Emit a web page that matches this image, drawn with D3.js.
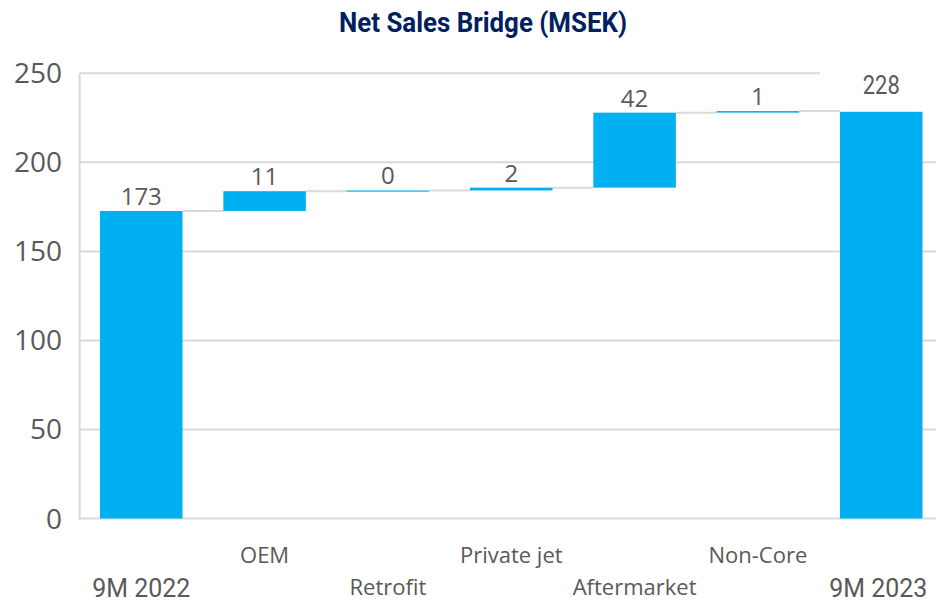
<!DOCTYPE html>
<html>
<head>
<meta charset="utf-8">
<script src="https://cdn.jsdelivr.net/npm/d3@7"></script>
<style>
  html, body { margin: 0; padding: 0; background: #fff; }
  svg { display: block; }
</style>
</head>
<body>
<svg id="chart" width="936" height="603"></svg>
<script>
// ---- data ----
const categories = ["9M 2022", "OEM", "Retrofit", "Private jet", "Aftermarket", "Non-Core", "9M 2023"];
const kinds      = ["total", "delta", "delta", "delta", "delta", "delta", "total"];
const values     = [172.7, 11.1, 0.4, 1.6, 42.1, 0.9, 228.4];
const yTicks     = [0, 50, 100, 150, 200, 250];
const titleText  = "Net Sales Bridge (MSEK)";

// ---- build waterfall segments ----
let running = 0;
const segs = categories.map((c, i) => {
  let y0, y1;
  if (kinds[i] === "total") { y0 = 0; y1 = values[i]; running = values[i]; }
  else { y0 = running; y1 = running + values[i]; running = y1; }
  return { cat: c, kind: kinds[i], value: values[i], y0, y1, i };
});

const svg = d3.select("#chart");
const W = 936, H = 603;
const left = 79.6, step = 123.33;
const x = d3.scaleBand().domain(categories)
  .range([left, left + step * categories.length])
  .paddingInner(0.331).paddingOuter(0.1655);
const y = d3.scaleLinear().domain([0, 250]).range([518.5, 73.3]);

const gridColor = "#d9d9d9";
const textColor = "#595959";
const barColor = "#00b0f0";

// title
svg.append("text")
  .attr("x", 483).attr("y", 32)
  .attr("text-anchor", "middle")
  .attr("font-family", "Roboto")
  .attr("font-weight", 700)
  .attr("font-size", 28)
  .attr("fill", "#002060")
  .attr("textLength", 288)
  .attr("lengthAdjust", "spacingAndGlyphs")
  .text(titleText);

// gridlines
svg.append("g").selectAll("line").data(yTicks).join("line")
  .attr("x1", left).attr("x2", W)
  .attr("y1", d => y(d)).attr("y2", d => y(d))
  .attr("stroke", gridColor).attr("stroke-width", 2);

// y axis line
svg.append("line")
  .attr("x1", left).attr("x2", left)
  .attr("y1", y(250)).attr("y2", y(0) + 1)
  .attr("stroke", gridColor).attr("stroke-width", 2);

// y axis labels via d3 axis
const yAxis = d3.axisLeft(y).tickValues(yTicks).tickSize(0).tickPadding(0);
const gy = svg.append("g").attr("transform", "translate(62,0)").call(yAxis);
gy.select(".domain").remove();
gy.selectAll("text")
  .attr("font-family", "'Open Sans'")
  .attr("font-size", 28)
  .attr("fill", textColor)
  .attr("dy", "0.34em");

// connectors
const conn = segs.slice(0, -1).map((s, i) => ({ from: s, to: segs[i + 1] }));
svg.append("g").selectAll("line").data(conn).join("line")
  .attr("x1", d => x(d.from.cat) + x.bandwidth())
  .attr("x2", d => x(d.to.cat))
  .attr("y1", d => y(d.from.y1)).attr("y2", d => y(d.from.y1))
  .attr("stroke", gridColor).attr("stroke-width", 2);

// label background for end total (hides gridline like reference)
const last = segs[segs.length - 1];
svg.append("rect")
  .attr("x", x(last.cat) - (step - x.bandwidth()) / 2)
  .attr("y", y(last.y1) - 44)
  .attr("width", step)
  .attr("height", 36)
  .attr("fill", "#fff");

// bars
svg.append("g").selectAll("rect").data(segs).join("rect")
  .attr("x", d => x(d.cat))
  .attr("width", x.bandwidth())
  .attr("y", d => y(Math.max(d.y0, d.y1)))
  .attr("height", d => Math.max(1.2, Math.abs(y(d.y0) - y(d.y1))))
  .attr("fill", barColor);

// data labels
svg.append("g").selectAll("text").data(segs).join("text")
  .attr("x", d => x(d.cat) + x.bandwidth() / 2)
  .attr("y", d => y(Math.max(d.y0, d.y1)) - (d.i === segs.length - 1 ? 18 : 6))
  .attr("text-anchor", "middle")
  .attr("font-family", d => d.i === segs.length - 1 ? "Roboto" : "'Open Sans'")
  .attr("font-size", d => d.i === segs.length - 1 ? 25 : 24)
  .attr("fill", textColor)
  .each(function(d) {
    if (d.i === segs.length - 1) d3.select(this).attr("textLength", 37).attr("lengthAdjust", "spacingAndGlyphs");
  })
  .text(d => Math.round(d.value));

// category labels (staggered)
svg.append("g").selectAll("text").data(segs).join("text")
  .attr("x", d => x(d.cat) + x.bandwidth() / 2 - (d.i === segs.length - 1 ? 3 : 0))
  .attr("y", d => d.kind === "total" ? 597 : (d.i % 2 === 1 ? 563 : 595))
  .attr("text-anchor", "middle")
  .attr("font-family", d => d.kind === "total" ? "Roboto" : "'Open Sans'")
  .attr("font-size", d => d.kind === "total" ? 26 : 22)
  .attr("fill", textColor)
  .each(function(d) {
    if (d.kind === "total") d3.select(this).attr("textLength", 98).attr("lengthAdjust", "spacingAndGlyphs");
  })
  .text(d => d.cat);
</script>
</body>
</html>
